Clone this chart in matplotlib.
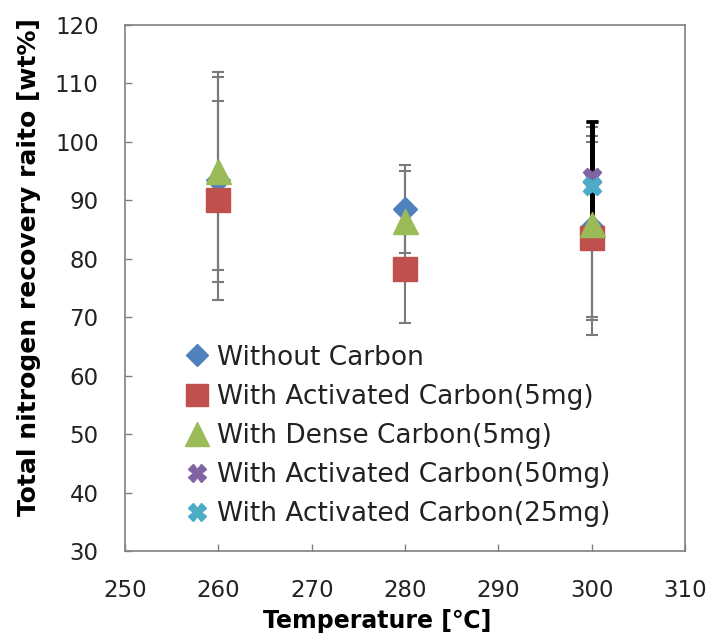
import numpy as np
import matplotlib
matplotlib.use('Agg')
import matplotlib.pyplot as plt

plt.rcParams['font.family'] = ['DejaVu Sans']

# data
temps = [260, 280, 300]
series_names = ['Without Carbon', 'With Activated Carbon(5mg)', 'With Dense Carbon(5mg)',
                'With Activated Carbon(50mg)', 'With Activated Carbon(25mg)']
without_carbon = [93.5, 88.5, 85.5]
without_carbon_err = [17.5, 7.5, 15.5]
activated_5 = [90.0, 78.3, 83.5]
activated_5_err = [17.0, 9.3, 16.5]
dense_5 = [95.0, 86.5, 86.0]
dense_5_err = [17.0, 8.5, 16.5]
temps_300 = [300]
activated_50 = [94.0]
activated_50_err = [9.5]
activated_25 = [92.5]
activated_25_err = [10.8]

fig, ax = plt.subplots(figsize=(7.1, 6.35), dpi=100)
fig.subplots_adjust(left=0.176, right=0.965, bottom=0.132, top=0.961)

gray = '#7a7a7a'
# error bars first, markers drawn over them
for y, e in [(without_carbon, without_carbon_err), (activated_5, activated_5_err), (dense_5, dense_5_err)]:
    ax.errorbar(temps, y, yerr=e, fmt='none', ecolor=gray, elinewidth=1.5,
                capsize=4, capthick=1.5, zorder=2)
for y, e in [(activated_50, activated_50_err), (activated_25, activated_25_err)]:
    ax.errorbar(temps_300, y, yerr=e, fmt='none', ecolor='black', elinewidth=3.5,
                capsize=4, capthick=2, zorder=2)

ax.plot(temps, without_carbon, 'D', color='#4F81BD', ms=12, ls='none', label=series_names[0], zorder=3)
ax.plot(temps, activated_5, 's', color='#C0504D', ms=17, ls='none', label=series_names[1], zorder=4)
ax.plot(temps, dense_5, '^', color='#9BBB59', ms=18, ls='none', label=series_names[2], zorder=5)
ax.plot(temps_300, activated_50, 'X', color='#8064A2', ms=13, ls='none', label=series_names[3], zorder=6)
ax.plot(temps_300, activated_25, 'X', color='#4BACC6', ms=13, ls='none', label=series_names[4], zorder=7)

ax.set_xlim(250, 310)
ax.set_ylim(30, 120)
ax.set_xticks(np.arange(250, 311, 10))
ax.set_yticks(np.arange(30, 121, 10))
ax.tick_params(direction='in', length=5, width=1, color='#808080', labelsize=16.5,
               labelcolor='#222222')
ax.tick_params(axis='y', pad=19)
ax.tick_params(axis='x', pad=20)
for s in ax.spines.values():
    s.set_color('#808080')
    s.set_linewidth(1.2)

ax.set_xlabel('Temperature [℃]', fontsize=17, fontweight='bold')
ax.xaxis.set_label_coords(0.45, -0.145)
ax.xaxis.label.set_va('baseline')
ax.set_ylabel('Total nitrogen recovery raito [wt%]', fontsize=18, fontweight='bold')
ax.yaxis.set_label_coords(-0.149, 0.54)

leg = ax.legend(loc='lower left', bbox_to_anchor=(0.11, 0.045), frameon=False, fontsize=19,
                handletextpad=0.35, handlelength=0.8, labelspacing=0.5, borderpad=0,
                borderaxespad=0, markerscale=0.95)
for t in leg.get_texts():
    t.set_color('#222222')

fig.savefig('out.png', dpi=100)
